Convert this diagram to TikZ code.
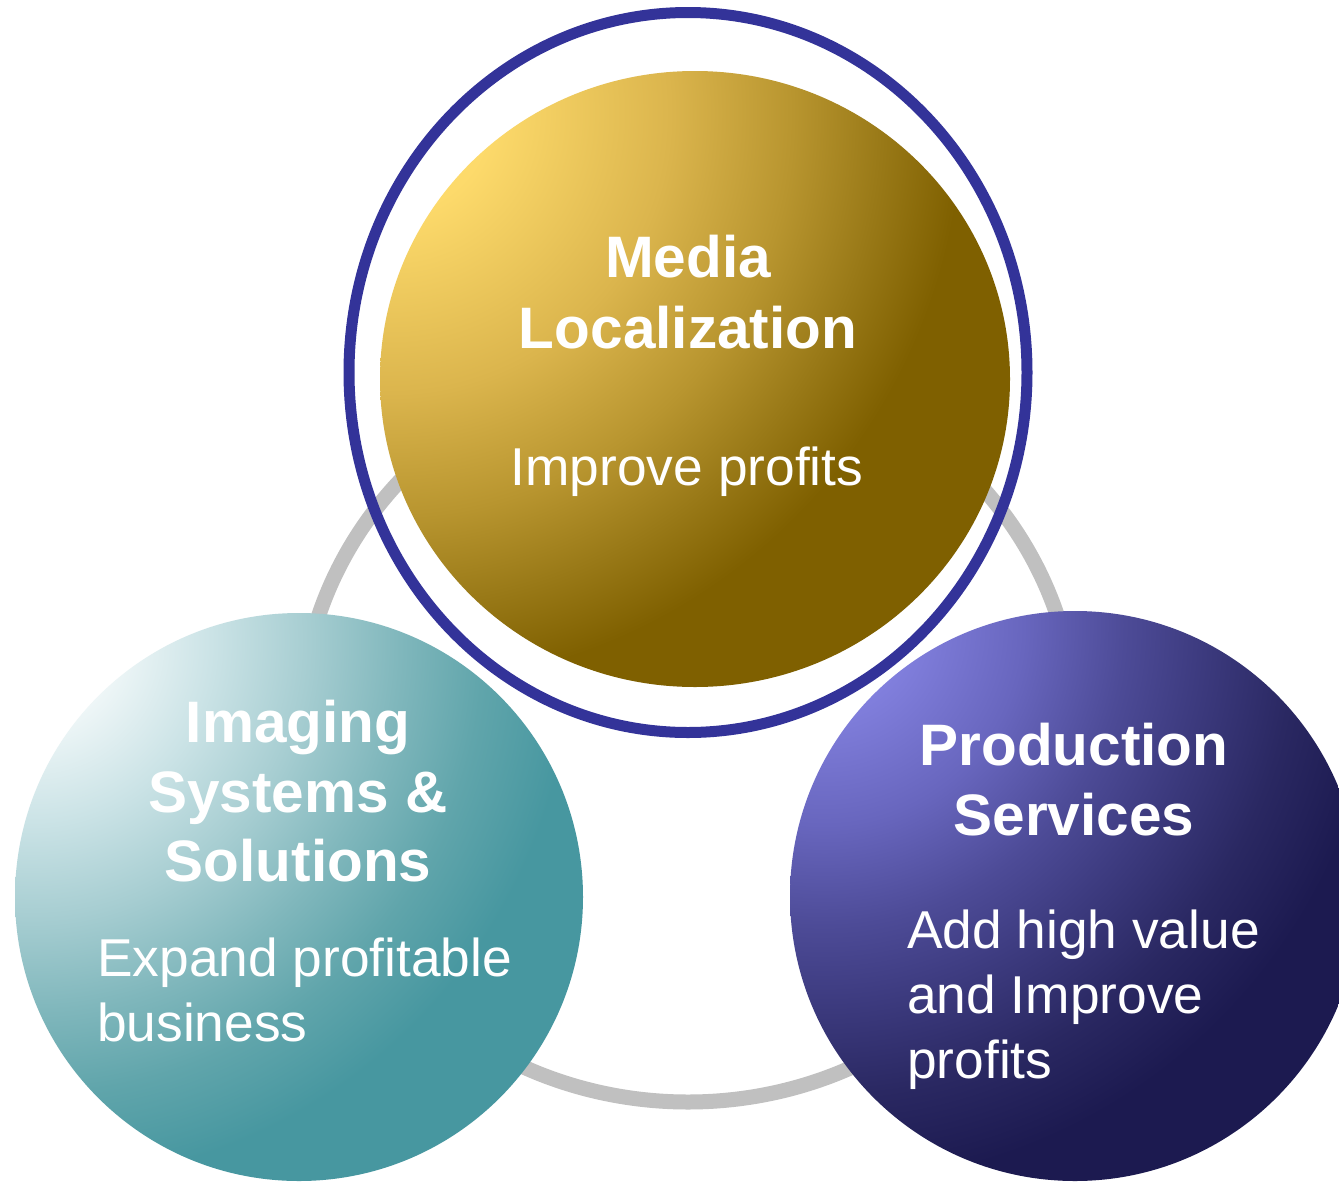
\documentclass[tikz,border=0pt]{standalone}
\usepackage{fontspec}
\setmainfont{Liberation Sans}
\definecolor{goldA}{HTML}{FDDA6B}
\definecolor{goldB}{HTML}{DBB54D}
\definecolor{goldC}{HTML}{B8952F}
\definecolor{goldC2}{HTML}{9A7A18}
\definecolor{goldD}{HTML}{7F6000}
\definecolor{tealA}{HTML}{EEF6F7}
\definecolor{tealA2}{HTML}{CBE3E6}
\definecolor{tealB}{HTML}{A6CDD1}
\definecolor{tealC}{HTML}{80B7BC}
\definecolor{tealC2}{HTML}{60A5AB}
\definecolor{tealD}{HTML}{4797A0}
\definecolor{purpA}{HTML}{817FDD}
\definecolor{purpA2}{HTML}{6866BE}
\definecolor{purpB}{HTML}{4D4B97}
\definecolor{purpC}{HTML}{3E3C81}
\definecolor{purpC2}{HTML}{2A2862}
\definecolor{purpD}{HTML}{1C1A50}
\definecolor{navyring}{HTML}{333399}
\definecolor{grayring}{HTML}{C0C0C0}
% radial shadings: 1bp = 32px when shading a circle of radius 800
\pgfdeclareradialshading{goldrad}{\pgfpointorigin}{color(0bp)=(goldA); color(3.1bp)=(goldA); color(8.75bp)=(goldB); color(12.6bp)=(goldC); color(15.3bp)=(goldC2); color(17.9bp)=(goldD); color(50bp)=(goldD)}
\pgfdeclareradialshading{tealrad}{\pgfpointorigin}{color(0bp)=(tealA); color(2.66bp)=(tealA); color(5.6bp)=(tealA2); color(8.66bp)=(tealB); color(11.5bp)=(tealC); color(14.1bp)=(tealC2); color(16.9bp)=(tealD); color(50bp)=(tealD)}
\pgfdeclareradialshading{purprad}{\pgfpointorigin}{color(0bp)=(purpA); color(2.66bp)=(purpA); color(6.25bp)=(purpA2); color(9.4bp)=(purpB); color(11.6bp)=(purpC); color(14.7bp)=(purpC2); color(17.5bp)=(purpD); color(50bp)=(purpD)}
\tikzset{
  title/.style={text=white, inner sep=0pt, anchor=base, font=\fontsize{58.5}{70}\selectfont\bfseries},
  body/.style={text=white, inner sep=0pt, anchor=base west, font=\fontsize{53.3}{65}\selectfont},
  bodyc/.style={text=white, inner sep=0pt, anchor=base, font=\fontsize{53.3}{65}\selectfont},
}
\begin{document}
\begin{tikzpicture}[x=1pt,y=-1pt]
\useasboundingbox (0,0) rectangle (1339,1181);
\clip (0,0) rectangle (1339,1181);
\fill[white] (0,0) rectangle (1339,1181);
% gray ring
\draw[grayring, line width=15pt] (688,730) ellipse [x radius=388, y radius=372];
% navy ring
\draw[navyring, line width=11pt] (688,372.5) ellipse [x radius=339, y radius=360];
% gold circle
\begin{scope}
  \clip (695,379) ellipse [x radius=315, y radius=308];
  \shade[shading=goldrad] (390,113) circle [radius=800];
\end{scope}
% teal circle
\begin{scope}
  \clip (299,897) circle [radius=284];
  \shade[shading=tealrad] (32,642) circle [radius=800];
\end{scope}
% purple circle
\begin{scope}
  \clip (1075,896) circle [radius=285];
  \shade[shading=purprad] (824,625) circle [radius=800];
\end{scope}
% texts
\node[title] (m1) at (688,277) {Media};
\node[title] (m2) at (688,348) {Localization};
\node[bodyc] (m3) at (687,485) {Improve profits};
\node[title] (i1) at (298,742) {Imaging};
\node[title] (i2) at (298,812) {Systems \&};
\node[title] (i3) at (298,881) {Solutions};
\node[body] (i4) at (97,976) {Expand profitable};
\node[body] (i5) at (97,1041) {business};
\node[title] (p1) at (1074,765) {Production};
\node[title] (p2) at (1074,835) {Services};
\node[body] (p3) at (907,948) {Add high value};
\node[body] (p4) at (907,1013) {and Improve};
\node[body] (p5) at (907,1078) {profits};
\end{tikzpicture}
\end{document}
